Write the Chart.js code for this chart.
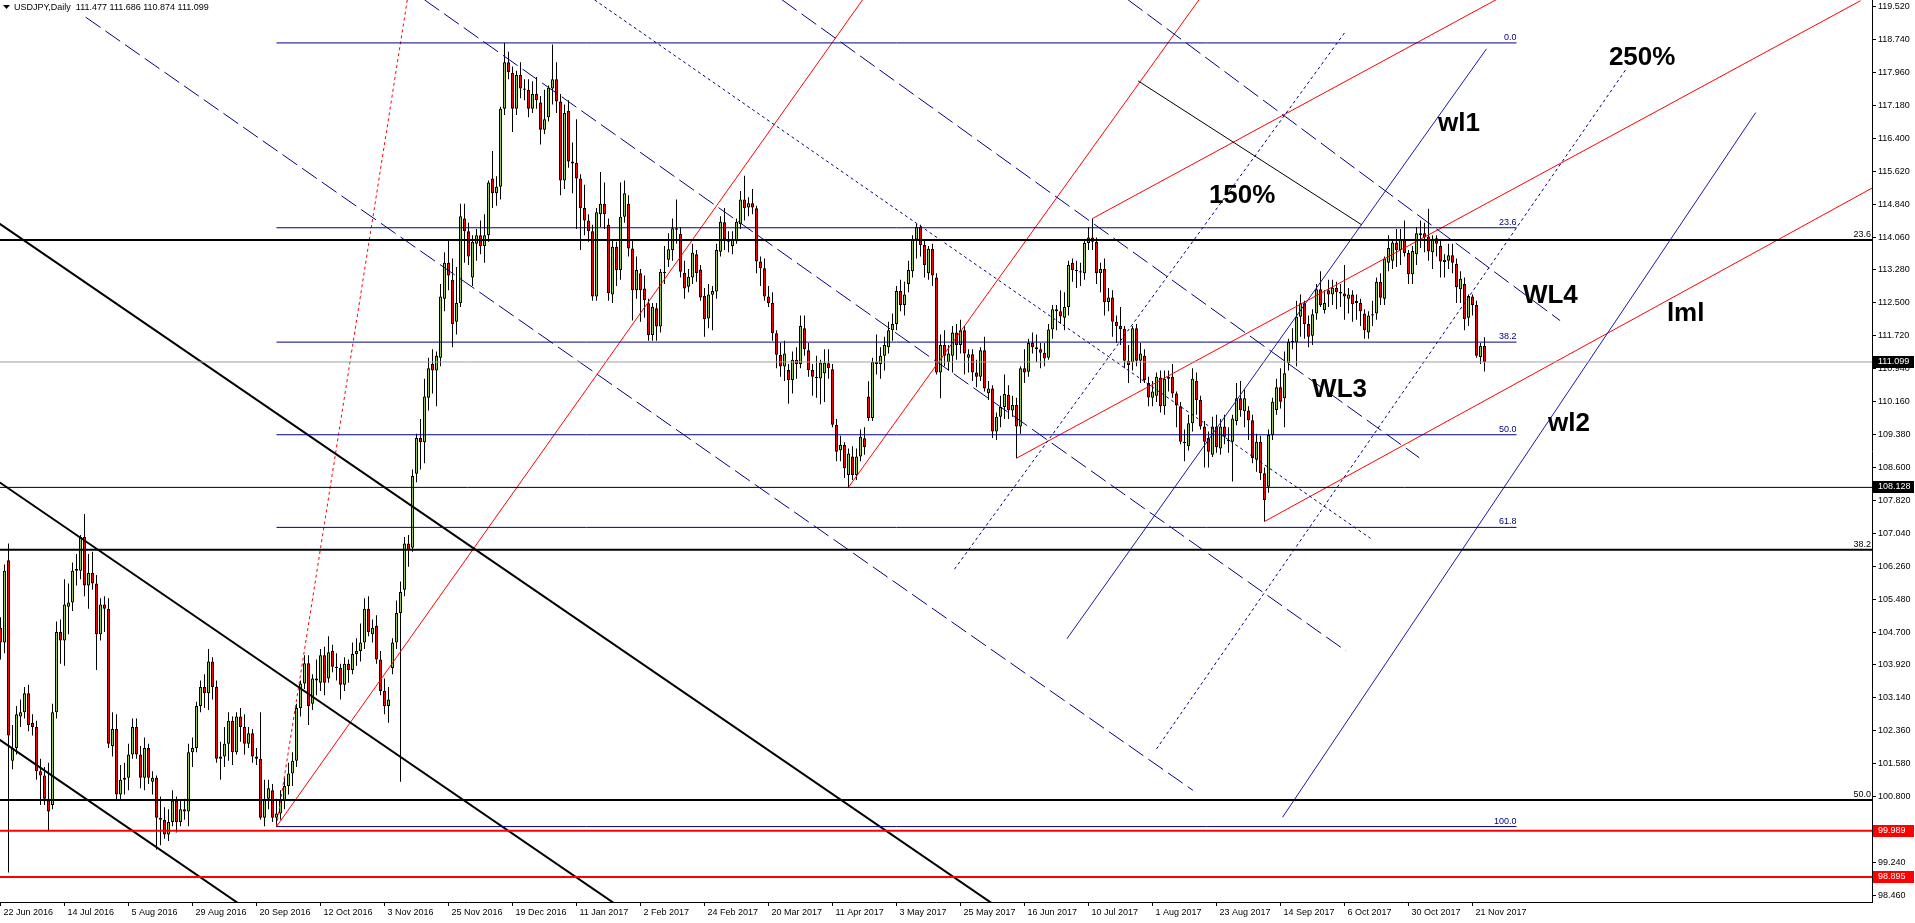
<!DOCTYPE html>
<html><head><meta charset="utf-8">
<script src="https://cdn.jsdelivr.net/npm/chart.js@4.4.1/dist/chart.umd.min.js"></script>
<style>html,body{margin:0;padding:0;background:#fff;overflow:hidden}canvas{display:block}</style>
</head><body>
<canvas id="c" width="1915" height="923"></canvas>
<script>
// ---- daily bars, USDJPY, 22 Jun 2016 .. 24 Nov 2017 (bar index = position) ----
const opens = [
104.80,104.45,106.40,101.65,101.95,102.70,102.80,103.25,102.55,102.45,
101.40,101.30,100.75,100.60,102.80,104.70,104.50,105.30,105.40,106.15,
106.15,106.95,105.80,106.10,105.85,104.65,105.35,105.25,102.00,102.40,
100.85,101.20,101.25,101.80,102.45,101.80,101.25,101.95,101.15,101.25,
100.30,100.25,99.90,100.20,100.70,100.20,100.50,100.45,101.85,101.95,
102.95,103.40,103.25,104.00,103.40,101.70,101.75,102.05,102.60,101.85,
102.70,102.45,102.05,102.30,101.75,101.70,100.30,100.75,100.95,100.30,
100.40,100.70,101.05,101.35,101.65,102.90,103.48,103.96,103.00,103.60,
103.50,104.15,103.60,104.25,103.88,103.85,103.45,103.95,103.80,104.18,
104.25,104.45,105.25,104.65,104.85,104.05,103.30,102.95,103.85,104.45,
105.15,105.70,106.80,106.70,108.45,109.30,109.20,110.25,111.05,110.90,
111.20,112.60,113.45,113.05,112.05,112.50,114.50,114.20,113.10,113.90,
114.10,113.85,114.10,115.45,115.10,115.25,117.10,118.20,117.95,117.10,
117.90,117.58,117.55,117.10,117.45,117.25,116.60,116.90,117.58,117.80,
117.27,115.40,117.05,115.85,115.82,115.45,114.75,114.45,114.20,112.65,
114.60,114.85,114.35,112.70,113.83,113.28,114.54,114.85,113.79,112.80,
113.20,112.84,112.49,111.74,112.37,111.94,113.24,113.52,113.75,114.27,
114.13,113.21,112.88,113.10,113.65,113.29,112.66,112.13,112.69,112.77,
113.71,114.41,114.01,113.85,113.99,114.37,114.95,114.76,114.86,114.74,
113.48,113.32,112.65,112.50,111.78,111.27,110.99,110.91,110.67,111.15,
111.05,111.90,111.38,110.91,110.75,110.71,110.83,111.07,110.93,109.61,
109.01,109.13,108.42,108.86,108.42,108.86,109.29,110.28,109.77,111.10,
111.05,111.25,111.45,111.85,112.00,112.78,112.45,112.95,113.25,114.00,
114.30,113.87,113.20,113.78,113.10,110.85,111.50,111.10,111.25,111.80,
111.50,111.85,111.20,111.28,110.85,110.75,111.38,110.36,110.47,109.45,
109.80,110.03,110.32,109.95,110.08,109.57,110.95,110.87,111.55,111.45,
111.40,111.32,111.20,111.87,112.35,112.30,112.15,112.40,113.45,113.28,
113.25,113.20,113.92,114.05,113.95,113.20,113.30,112.52,112.63,112.05,
111.95,111.88,111.13,111.10,111.90,111.13,111.25,110.60,110.25,110.30,
110.73,110.05,110.70,110.75,110.35,110.05,109.21,109.10,109.65,110.65,
110.20,109.57,109.30,108.90,109.57,109.05,109.57,109.25,109.21,109.70,
110.24,109.93,109.95,109.72,108.78,109.21,108.46,108.14,109.37,109.96,
110.50,110.24,111.07,111.57,111.56,112.17,112.49,112.00,111.72,112.25,
112.82,112.33,112.80,112.70,112.86,112.76,112.72,112.60,112.70,112.55,
112.50,112.25,111.80,112.20,112.25,113.00,112.60,113.45,113.50,113.93,
113.75,113.99,113.68,113.18,113.65,114.15,114.15,114.07,113.70,114.03,
113.85,113.47,113.50,113.63,113.43,112.82,112.95,112.15,112.65,112.45,
111.22,111.477];
const highs = [
105.05,106.30,106.80,102.50,102.95,103.10,103.40,103.45,102.75,102.60,
101.70,101.50,101.60,103.00,104.95,105.00,105.95,105.85,106.35,106.55,
107.00,107.50,106.55,106.60,106.05,105.50,105.55,105.50,102.80,102.75,
101.55,101.60,102.05,102.65,102.65,102.00,102.20,102.05,101.40,101.30,
100.80,100.55,100.50,100.95,100.80,100.70,100.75,102.05,102.20,103.05,
103.55,103.70,104.30,104.10,103.55,102.10,102.45,102.80,102.70,102.80,
102.90,102.75,102.45,102.40,101.95,102.80,101.20,101.20,101.10,100.75,
100.95,101.25,101.60,101.85,103.00,103.55,104.15,104.15,103.70,104.05,
104.30,104.35,104.60,104.40,104.20,103.95,104.10,104.05,104.45,104.55,
104.90,105.50,105.55,105.00,105.10,104.25,103.60,103.40,104.55,105.45,
105.90,106.95,107.00,108.55,109.40,109.75,110.70,111.20,111.40,111.35,
112.95,113.70,114.00,113.55,113.35,114.85,114.85,114.40,114.10,114.25,
114.45,114.60,115.40,116.10,115.50,117.15,118.66,118.45,118.10,118.00,
118.20,117.80,117.80,117.75,117.85,117.40,117.55,117.65,118.62,118.20,
117.45,117.20,117.30,116.30,116.85,115.55,115.30,114.60,114.35,114.75,
115.60,115.35,114.50,114.00,113.95,115.35,115.40,115.05,114.00,113.60,
113.30,113.15,112.60,112.50,112.50,113.30,113.85,114.15,114.50,114.95,
114.30,113.50,113.30,113.90,113.75,113.40,112.85,112.95,112.90,113.90,
114.55,114.75,114.20,114.20,114.50,115.15,115.51,115.00,115.20,114.80,
113.60,113.55,112.90,112.75,111.85,111.55,111.60,111.05,111.35,111.45,
112.20,112.20,111.55,111.05,111.25,111.15,111.40,111.40,111.05,109.75,
109.35,109.20,109.05,109.10,109.05,109.50,109.55,110.64,111.20,111.75,
111.45,111.70,112.05,112.25,112.90,113.05,113.00,113.50,114.10,114.37,
114.35,114.00,113.85,113.90,113.20,111.75,111.85,111.50,111.95,112.00,
112.10,111.95,111.40,111.40,111.15,111.45,111.70,110.65,110.55,109.90,
110.30,110.80,110.55,110.30,110.25,111.00,111.40,111.65,111.80,111.75,
111.55,111.55,112.00,112.45,112.45,112.80,112.75,113.50,113.55,113.50,
113.45,114.00,114.30,114.50,114.05,113.45,113.55,112.85,112.80,112.20,
112.40,111.95,111.50,111.95,112.00,111.55,111.40,110.75,110.65,110.85,
110.90,110.90,110.90,111.05,110.40,110.15,109.50,109.85,110.95,110.85,
110.30,109.70,109.45,109.80,109.85,109.75,109.85,109.55,109.85,110.60,
110.65,110.45,110.05,109.85,109.40,109.35,108.60,109.50,110.25,110.70,
110.95,111.35,111.65,111.90,112.55,112.70,112.55,112.20,112.35,112.95,
113.25,112.80,113.05,113.05,113.00,112.95,113.40,112.85,112.80,112.70,
112.60,112.35,112.30,112.55,113.10,113.20,113.60,114.10,114.00,114.25,
114.25,114.45,113.75,113.85,114.30,114.45,114.40,114.73,114.10,114.10,
114.00,113.65,113.90,113.90,113.55,113.25,113.10,112.70,112.70,112.55,
111.55,111.686];
const lows = [
104.05,104.20,99.00,101.45,101.80,102.45,102.65,102.35,102.25,101.20,
100.60,100.60,99.98,100.50,102.65,103.95,103.90,104.65,105.20,105.80,
105.95,105.55,105.25,105.70,103.80,104.50,104.70,101.95,101.75,100.70,
100.70,100.85,100.95,101.70,101.70,101.00,100.95,101.10,100.85,99.55,
99.65,99.80,99.75,100.10,99.95,100.10,100.25,100.10,101.50,101.85,
102.80,102.90,102.85,103.10,101.60,101.20,101.50,101.65,101.55,101.80,
102.10,101.80,101.95,101.60,101.55,100.25,100.10,100.50,100.20,100.08,
100.25,100.50,100.85,101.05,101.50,102.70,103.35,102.50,102.85,103.20,
103.30,103.20,103.50,103.75,103.55,103.10,103.30,103.50,103.70,103.90,
104.00,104.30,104.60,104.45,103.95,103.20,102.75,102.55,103.70,104.30,
101.15,105.55,106.25,106.60,108.25,108.55,108.70,109.95,110.35,110.05,
111.00,112.30,112.80,111.45,111.75,112.40,113.45,113.40,112.90,113.50,
113.65,113.45,113.95,114.75,114.80,114.95,116.95,117.80,116.55,116.95,
117.35,117.30,116.90,117.00,117.10,116.25,116.50,116.80,117.20,117.00,
115.05,115.20,115.70,115.10,114.25,113.75,114.10,113.95,112.55,112.55,
114.30,114.25,112.55,112.50,112.90,113.05,114.40,113.60,112.08,112.60,
112.05,112.15,111.60,111.60,111.60,111.80,112.95,113.35,113.50,113.90,
113.10,112.60,112.75,112.95,113.00,112.55,111.70,111.90,111.85,112.60,
113.60,113.75,113.70,113.65,113.90,114.25,114.45,114.55,114.60,113.20,
112.90,112.55,112.40,111.60,110.95,110.75,110.65,110.11,110.35,110.70,
110.95,111.25,110.75,110.30,110.25,110.10,110.15,110.70,109.55,108.75,
108.75,108.35,108.13,108.30,108.30,108.75,108.90,109.70,109.70,110.80,
110.70,110.90,111.30,111.60,111.85,112.30,112.20,112.75,113.10,113.55,
113.60,113.10,113.05,112.90,110.80,110.24,111.00,110.90,110.85,111.15,
111.30,110.80,110.85,110.65,110.50,110.65,110.40,110.20,109.30,109.25,
109.55,109.75,109.75,109.80,108.82,109.40,110.60,110.75,111.30,111.10,
110.95,111.00,111.15,111.65,111.85,112.00,111.85,112.20,113.00,112.85,
112.90,113.05,113.75,113.75,112.95,112.75,112.20,112.30,111.70,111.55,
111.50,110.95,110.60,110.90,111.00,110.60,110.60,110.05,110.05,110.15,
109.90,109.85,110.40,110.25,109.55,109.15,108.75,109.00,109.45,109.85,
109.50,108.60,108.60,108.85,108.95,108.90,109.15,108.95,108.27,109.60,
109.80,109.55,109.25,108.70,108.50,108.30,107.32,108.00,109.25,109.85,
110.00,109.55,110.90,111.40,111.00,111.70,111.65,111.45,111.50,112.10,
112.40,112.25,112.40,112.45,112.35,112.40,112.10,112.25,112.05,112.10,
111.95,111.65,111.65,111.95,112.10,112.45,112.45,113.25,113.30,113.35,
113.40,113.60,112.95,112.95,113.40,113.80,113.70,113.50,113.30,113.60,
113.10,113.10,113.30,113.20,112.50,112.50,111.85,111.95,112.20,111.20,
111.05,110.874];
const closes = [
104.45,106.15,102.25,101.95,102.75,102.80,103.25,102.50,102.45,101.40,
101.30,100.75,100.45,102.80,104.70,104.50,105.35,105.40,106.15,106.20,
106.95,105.80,106.10,105.85,104.65,105.35,105.25,102.05,102.40,100.85,
101.20,101.25,101.80,102.45,101.80,101.25,101.95,101.25,101.25,100.30,
100.25,99.90,100.20,100.70,100.20,100.50,100.45,101.85,101.95,102.95,
103.40,103.25,104.00,103.40,101.70,101.75,102.05,102.60,101.85,102.70,
102.45,102.05,102.30,101.75,101.70,100.30,100.75,101.00,100.30,100.40,
100.70,101.05,101.35,101.65,102.90,103.48,103.96,102.95,103.60,103.55,
104.15,103.50,104.22,103.88,103.85,103.45,103.95,103.80,104.18,104.25,
104.45,105.25,104.70,104.80,104.05,103.30,102.95,103.10,104.45,105.15,
105.65,106.80,106.65,108.40,109.30,109.20,110.28,110.95,110.90,111.25,
112.65,113.45,113.15,112.00,112.50,114.55,114.20,113.60,113.95,114.10,
113.85,114.10,115.35,115.10,115.25,117.10,118.20,117.97,117.10,117.90,
117.58,117.55,117.10,117.45,117.30,116.60,116.85,117.60,117.80,117.27,
115.40,117.00,115.85,115.80,115.45,114.75,114.45,114.20,112.65,114.65,
114.85,114.60,112.73,113.83,113.28,114.54,115.10,113.79,112.80,113.28,
112.80,112.57,111.74,112.41,111.94,113.24,113.20,113.77,114.27,114.23,
113.24,112.84,113.12,113.69,113.20,112.63,112.11,112.70,112.78,113.75,
114.42,114.01,113.95,114.01,114.42,114.95,114.74,114.86,114.76,113.48,
113.32,112.65,112.49,111.78,111.27,110.99,111.30,110.67,111.15,111.05,
111.95,111.40,110.91,110.75,110.72,111.08,111.08,110.95,109.61,108.97,
109.13,108.58,108.93,108.42,108.86,109.33,109.08,109.77,111.10,111.05,
111.25,111.50,111.85,112.00,112.78,112.45,112.70,113.28,114.00,114.30,
113.87,113.40,113.78,113.15,110.85,111.50,111.25,111.30,111.80,111.50,
111.85,111.30,111.28,110.85,110.75,111.38,110.47,110.47,109.45,109.80,
110.03,110.34,109.96,110.08,109.57,110.95,110.85,111.55,111.45,111.40,
111.32,111.18,111.87,112.35,112.30,112.18,112.40,113.40,113.28,113.25,
113.22,113.92,114.05,113.95,113.20,113.30,112.52,112.63,112.05,111.95,
111.88,111.13,111.03,111.90,111.13,111.30,110.67,110.26,110.40,110.75,
110.05,110.70,110.75,110.35,110.07,109.21,109.18,109.65,110.70,110.20,
109.57,109.21,108.97,109.57,109.08,109.57,109.33,109.22,109.76,110.24,
109.96,110.24,109.72,108.82,109.21,108.46,107.83,109.37,110.16,110.50,
110.16,110.83,111.57,111.60,112.17,112.49,112.00,111.70,112.23,112.82,
112.45,112.50,112.70,112.86,112.76,112.72,112.65,112.70,112.47,112.50,
112.30,111.86,112.20,112.23,113.00,112.62,113.55,113.80,113.93,113.75,
113.99,113.68,113.18,113.73,114.15,114.10,114.05,113.72,113.99,113.90,
113.48,113.52,113.63,113.45,112.87,113.07,112.11,112.66,112.45,111.25,
111.48,111.099];

// time axis labels: one every 16 bars
const labelStep = 16;
const dateLabels = ['22 Jun 2016','14 Jul 2016','5 Aug 2016','29 Aug 2016','20 Sep 2016','12 Oct 2016',
 '3 Nov 2016','25 Nov 2016','19 Dec 2016','11 Jan 2017','2 Feb 2017','24 Feb 2017','20 Mar 2017',
 '11 Apr 2017','3 May 2017','25 May 2017','16 Jun 2017','10 Jul 2017','1 Aug 2017','23 Aug 2017',
 '14 Sep 2017','6 Oct 2017','30 Oct 2017','21 Nov 2017'];
// price axis ticks
const priceTicks = [98.460,99.240,100.020,100.800,101.580,102.360,103.140,103.920,104.700,105.480,
 106.260,107.040,107.820,108.600,109.380,110.160,110.940,111.720,112.500,113.280,114.060,114.840,
 115.620,116.400,117.180,117.960,118.740,119.520];

// horizontal levels
const bidLevel = 111.099;
const supportLevel = 108.128;
const redLevels = [99.989, 98.895];
const bigFibLevels = [113.99, 106.65, 100.72];
const bigFibNames = ['23.6','38.2','50.0'];
const fibLevels = [118.66, 114.28, 111.57, 109.375, 107.18, 100.09];
const fibNames = ['0.0','23.6','38.2','50.0','61.8','100.0'];
const fibFrom = 69, fibTo = 379;

// trend lines: [[barIndex, price], [barIndex, price]]
const blackThickLines = [[[-20,115.66],[320,93.59]], [[-20,109.53],[320,87.46]], [[-20,103.43],[320,81.36]]];
const blackThinLines = [[[284.4,117.76],[340.3,114.35]]];
const navyDashedLines = [[[21.3,119.27],[298.1,100.95]], [[106.0,119.68],[336.4,104.25]],
 [[195.4,119.68],[354.7,108.83]], [[281.9,119.68],[389.9,112.08]]];
const navyDottedLines = [[[148.5,119.68],[342.5,106.92]], [[238.5,106.19],[336.4,118.95]], [[289,101.93],[406.7,118.08]]];
const navySolidLines = [[[266.6,104.54],[371.5,118.52]], [[320.5,100.31],[438.8,117.01]]];
const redSolidLines = [[[69,100.09],[215.5,119.68]], [[212,108.13],[299.6,119.68]], [[254,108.82],[465,119.66]],
 [[273,114.50],[375,119.74]], [[316,107.32],[480,115.85]]];
const redDottedLines = [[[69,100.09],[101.7,119.68]]];

// text notes anchored at [barIndex, price]
const notes = [['wl1',359.4,116.57],['250%',402.1,118.14],['150%',302.1,114.87],['WL4',380.6,112.50],
 ['lml',416.6,112.07],['WL3',327.9,110.27],['wl2',386.9,109.46]];
const priceMarkers = [111.099, 108.128, 99.989, 98.895];
const titleText = 'USDJPY,Daily  111.477 111.686 110.874 111.099';

// ---- styling ----
const FONT = '"Liberation Sans", Arial, sans-serif';
const UP = '#9ACD32', DOWN = '#FF0000', NAVY = '#000080', BLUE = '#1a1aa8', RED = '#FF0000';
const markerColors = ['#000000', '#000000', '#FF0000', '#FF0000'];

function seg(points, color, width, dash) {
  return { type: 'line', data: points.map(p => ({ x: p[0], y: p[1] })), borderColor: color,
    borderWidth: width, borderDash: dash || [], pointRadius: 0, pointHoverRadius: 0,
    fill: false, tension: 0, order: 0 };
}
const full = (lv) => [[-10, lv], [500, lv]];

const lineSets = [];
lineSets.push(seg(full(bidLevel), '#A0A0A0', 1));
lineSets.push(seg(full(supportLevel), '#000000', 1));
redLevels.forEach(l => lineSets.push(seg(full(l), RED, 2)));
bigFibLevels.forEach(l => lineSets.push(seg(full(l), '#000000', 2)));
fibLevels.forEach(l => lineSets.push(seg([[fibFrom, l], [fibTo, l]], NAVY, 1)));
blackThickLines.forEach(s => lineSets.push(seg(s, '#000000', 2)));
blackThinLines.forEach(s => lineSets.push(seg(s, '#000000', 1)));
navyDashedLines.forEach(s => lineSets.push(seg(s, NAVY, 1, [18, 6])));
navyDottedLines.forEach(s => lineSets.push(seg(s, NAVY, 1, [3, 3])));
navySolidLines.forEach(s => lineSets.push(seg(s, BLUE, 1)));
redSolidLines.forEach(s => lineSets.push(seg(s, RED, 1)));
redDottedLines.forEach(s => lineSets.push(seg(s, RED, 1, [3, 3])));

const idx = opens.map((_, i) => i);
const bodySet = {
  type: 'bar', order: 1, grouped: false, barThickness: 3, minBarLength: 1,
  data: idx.map(i => ({ x: i, y: [opens[i], closes[i]] })),
  backgroundColor: idx.map(i => closes[i] >= opens[i] ? UP : DOWN),
  borderColor: '#000000', borderWidth: 1, borderSkipped: false, inflateAmount: 0
};
const wickSet = {
  type: 'bar', order: 2, grouped: false, barThickness: 1, minBarLength: 1,
  data: idx.map(i => ({ x: i, y: [lows[i], highs[i]] })),
  backgroundColor: '#000000', borderWidth: 0, inflateAmount: 0
};

const overlay = {
  id: 'overlay',
  afterDatasetsDraw(chart) {
    const { ctx, chartArea } = chart, x = chart.scales.x, y = chart.scales.y;
    ctx.save();
    ctx.beginPath(); ctx.rect(chartArea.left, chartArea.top, chartArea.right - chartArea.left, chartArea.bottom - chartArea.top); ctx.clip();
    ctx.font = '9px ' + FONT; ctx.textBaseline = 'bottom'; ctx.textAlign = 'right';
    ctx.fillStyle = NAVY;
    fibLevels.forEach((l, i) => ctx.fillText(fibNames[i], x.getPixelForValue(fibTo), y.getPixelForValue(l) - 1));
    ctx.fillStyle = '#000';
    bigFibLevels.forEach((l, i) => ctx.fillText(bigFibNames[i], chartArea.right - 1, y.getPixelForValue(l) - 1));
    ctx.font = 'bold 26px ' + FONT; ctx.textAlign = 'left'; ctx.textBaseline = 'alphabetic';
    notes.forEach(n => ctx.fillText(n[0], x.getPixelForValue(n[1]), y.getPixelForValue(n[2])));
    ctx.restore();
  },
  afterDraw(chart) {
    const { ctx, chartArea } = chart, y = chart.scales.y;
    ctx.save();
    ctx.font = '9px ' + FONT; ctx.textBaseline = 'middle'; ctx.textAlign = 'left';
    priceMarkers.forEach((v, i) => {
      const py = Math.round(y.getPixelForValue(v));
      ctx.fillStyle = markerColors[i];
      ctx.fillRect(chartArea.right + 1, py - 6, 41, 12);
      ctx.fillStyle = '#fff';
      ctx.fillText(v.toFixed(3), chartArea.right + 6, py);
    });
    // title
    ctx.fillStyle = '#000';
    ctx.beginPath(); ctx.moveTo(3, 5); ctx.lineTo(10, 5); ctx.lineTo(6.5, 9); ctx.closePath(); ctx.fill();
    ctx.textBaseline = 'alphabetic';
    ctx.fillText(titleText, 14, 10);
    ctx.restore();
  }
};

new Chart(document.getElementById('c').getContext('2d'), {
  type: 'bar',
  data: { datasets: [...lineSets, bodySet, wickSet] },
  options: {
    responsive: false, animation: false, devicePixelRatio: 1, events: [],
    layout: { padding: 0 },
    plugins: { legend: { display: false }, tooltip: { enabled: false } },
    scales: {
      x: {
        type: 'linear', position: 'bottom', min: -0.125, max: 467.875, bounds: 'data', offset: false,
        grid: { drawOnChartArea: false, drawTicks: true, tickLength: 4, color: '#000', offset: false },
        border: { display: true, color: '#000', width: 1 },
        ticks: { autoSkip: false, maxRotation: 0, minRotation: 0, align: 'start', labelOffset: 3, padding: 1,
          color: '#000', font: { family: FONT, size: 9 },
          callback: (v) => { const k = Math.round(v / labelStep); return dateLabels[k] || ''; } },
        afterBuildTicks: (s) => { s.ticks = dateLabels.map((_, k) => ({ value: k * labelStep })); },
        afterFit: (s) => { s.height = 21; s.paddingLeft = 0; s.paddingRight = 0; }
      },
      y: {
        type: 'linear', position: 'right', min: 98.303, max: 119.677, bounds: 'data',
        grid: { drawOnChartArea: false, drawTicks: true, tickLength: 4, color: '#000' },
        border: { display: true, color: '#000', width: 1 },
        ticks: { color: '#000', padding: 2, font: { family: FONT, size: 9 }, callback: (v) => Number(v).toFixed(3) },
        afterBuildTicks: (s) => { s.ticks = priceTicks.map(v => ({ value: v })); },
        afterFit: (s) => { s.width = 43; s.paddingTop = 0; s.paddingBottom = 0; }
      }
    }
  },
  plugins: [overlay]
});
</script>
</body></html>
